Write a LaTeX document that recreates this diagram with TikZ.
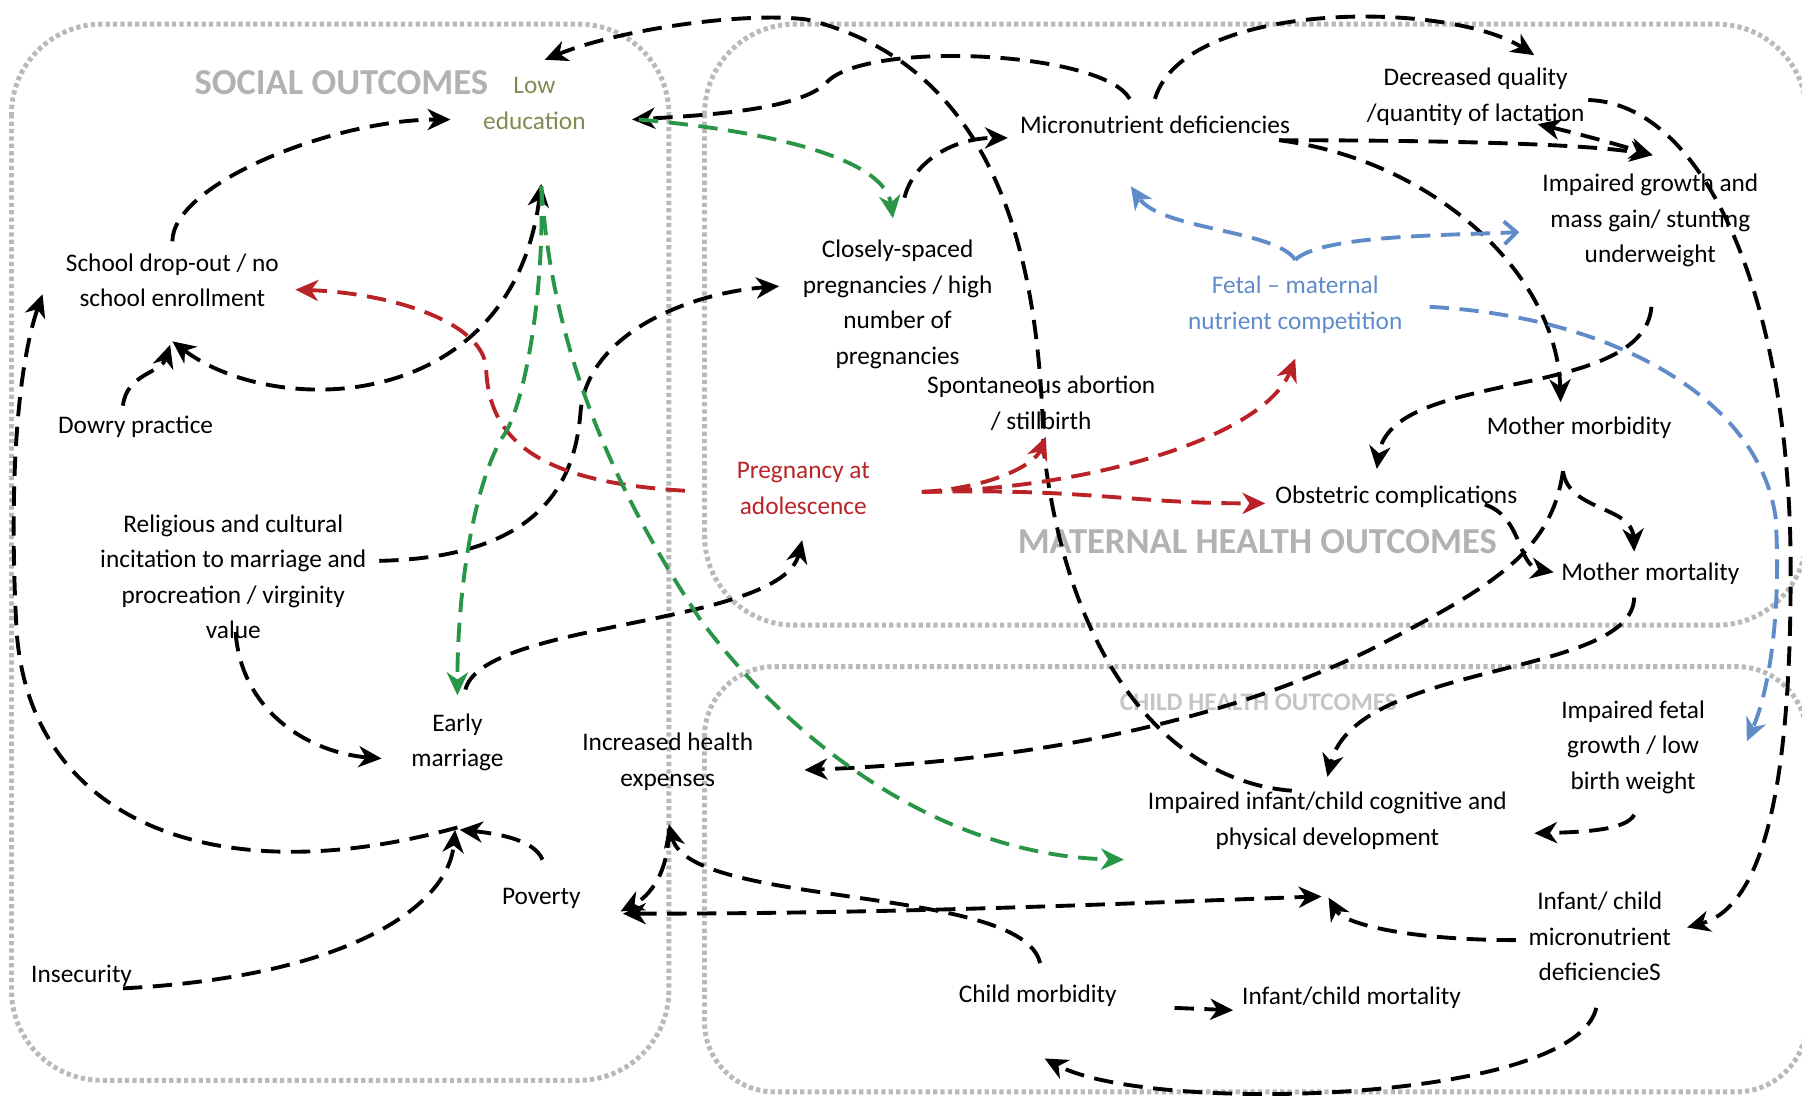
\documentclass[tikz,border=0pt]{standalone}
\usepackage{fontspec}
\setmainfont{Carlito}
\usetikzlibrary{arrows.meta}

\definecolor{zonegray}{RGB}{185,185,185}
\definecolor{titlegray}{RGB}{178,178,178}
\definecolor{eduolive}{RGB}{125,140,80}
\definecolor{pregred}{RGB}{185,35,40}
\definecolor{lnkgreen}{RGB}{40,150,70}
\definecolor{fetblue}{RGB}{95,140,200}

\begin{document}
\begin{tikzpicture}[x=0.1149mm, y=-0.1149mm, line join=round,
    >={Stealth[length=6.5pt,width=6pt,inset=2pt]},
    zone/.style={draw=zonegray, line width=1.4pt, dash pattern=on 1.2pt off 0.9pt, rounded corners=9mm},
    zonetitle/.style={text=titlegray, font=\bfseries\fontsize{10.4pt}{12pt}\selectfont, inner sep=0pt},
    txt/.style={align=center, inner sep=1pt, font=\fontsize{7.2pt}{10.1pt}\selectfont},
    lnk/.style={->, line width=1.1pt, dash pattern=on 5.5pt off 3pt},
    redlnk/.style={lnk, draw=pregred},
    grnlnk/.style={lnk, draw=lnkgreen},
    blulnk/.style={lnk, draw=fetblue}]
    \useasboundingbox (0,0) rectangle (1568,953);

    % outcome zones
    \draw[zone] (10,21) rectangle (582,940);
    \draw[zone] (613,21) rectangle (1572,544);
    \draw[zone, rounded corners=7mm] (613,580) rectangle (1572,950);

    \node[zonetitle] (soctitle) at (297,72) {SOCIAL OUTCOMES};
    \node[zonetitle] (mattitle) at (1094,471) {MATERNAL HEALTH OUTCOMES};
    \node[zonetitle, text=titlegray!75, font=\bfseries\fontsize{7.2pt}{9pt}\selectfont] (chtitle) at (1095,611) {CHILD HEALTH OUTCOMES};

    % social side
    \node[txt, text=eduolive] (edu) at (465,90) {Low\\education};
    \node[txt] (drop) at (150,244) {School drop-out / no\\school enrollment};
    \node[txt] (dowry) at (118,371) {Dowry practice};
    \node[txt] (relig) at (203,502) {Religious and cultural\\incitation to marriage and\\procreation / virginity\\value};
    \node[txt] (early) at (398,646) {Early\\marriage};
    \node[txt] (exp) at (581,663) {Increased health\\expenses};
    \node[txt] (pov) at (471,782) {Poverty};
    \node[txt] (insec) at (71,849) {Insecurity};

    % maternal side
    \node[txt, text=pregred] (preg) at (699,425) {Pregnancy at\\adolescence};
    \node[txt] (close) at (781,265) {Closely-spaced\\pregnancies / high\\number of\\pregnancies};
    \node[txt] (abort) at (906,351) {Spontaneous abortion\\/ stillbirth};
    \node[txt] (micro) at (1005,109) {Micronutrient deficiencies};
    \node[txt] (lact) at (1284,84) {Decreased quality\\/quantity of lactation};
    \node[txt] (growth) at (1436,192) {Impaired growth and\\mass gain/ stunting\\underweight};
    \node[txt, text=fetblue] (fetal) at (1127,265) {Fetal -- maternal\\nutrient competition};
    \node[txt] (mmorb) at (1374,372) {Mother morbidity};
    \node[txt] (obst) at (1215,432) {Obstetric complications};
    \node[txt] (mmort) at (1436,499) {Mother mortality};

    % child side
    \node[txt] (fgrow) at (1421,650) {Impaired fetal\\growth / low\\birth weight};
    \node[txt] (dev) at (1155,714) {Impaired infant/child cognitive and\\physical development};
    \node[txt] (cmicro) at (1392,815) {Infant/ child\\micronutrient\\deficiencieS};
    \node[txt] (cmorb) at (903,866) {Child morbidity};
    \node[txt] (cmort) at (1176,868) {Infant/child mortality};

    % black links
    \draw[lnk] ([shift={(0,-34)}]drop.center) .. controls (150,160) and (290,104) .. ([shift={(-73,14)}]edu.center);
    \draw[lnk, <->] ([shift={(0,53)}]drop.center) .. controls (240,365) and (445,360) .. ([shift={(6,70)}]edu.center);
    \draw[lnk] ([shift={(-11,-18)}]dowry.center) .. controls (110,325) and (140,325) .. ([shift={(-2,56)}]drop.center);
    \draw[lnk] ([shift={(127,-14)}]relig.center) .. controls (470,485) and (500,420) .. (505,360)
        .. controls (510,290) and (600,255) .. ([shift={(-103,-16)}]close.center);
    \draw[lnk] ([shift={(2,48)}]relig.center) .. controls (210,620) and (270,655) .. ([shift={(-66,14)}]early.center);
    \draw[lnk] ([shift={(7,-46)}]early.center) .. controls (420,540) and (680,545) .. ([shift={(-1,45)}]preg.center);
    \draw[lnk] ([shift={(0,74)}]early.center) .. controls (180,780) and (20,710) .. (14,540)
        .. controls (8,420) and (15,320) .. ([shift={(-113,12)}]drop.center);
    \draw[lnk] ([shift={(36,11)}]insec.center) .. controls (300,850) and (390,790) .. ([shift={(-2,76)}]early.center);
    \draw[lnk] ([shift={(1,-34)}]pov.center) .. controls (465,730) and (430,725) .. ([shift={(2,76)}]early.center);
    \draw[lnk] ([shift={(2,-28)}]cmorb.center) .. controls (890,770) and (600,790) .. ([shift={(1,54)}]exp.center);
    \draw[lnk] ([shift={(1,58)}]exp.center) .. controls (582,760) and (565,780) .. ([shift={(69,11)}]pov.center);
    \draw[lnk, <->] ([shift={(71,13)}]pov.center) .. controls (800,795) and (1000,785) .. ([shift={(-5,66)}]dev.center);
    \draw[lnk] ([shift={(-73,3)}]cmicro.center) .. controls (1230,818) and (1170,805) .. ([shift={(1,67)}]dev.center);
    \draw[lnk] ([shift={(119,11)}]cmorb.center) -- ([shift={(-103,11)}]cmort.center);
    \draw[lnk] ([shift={(-3,62)}]cmicro.center) .. controls (1370,960) and (1000,970) .. ([shift={(6,55)}]cmorb.center);
    \draw[lnk] ([shift={(1,59)}]fgrow.center) .. controls (1415,722) and (1380,724) .. ([shift={(180,11)}]dev.center);
    \draw[lnk] ([shift={(-14,21)}]mmort.center) .. controls (1420,590) and (1180,575) .. ([shift={(0,-38)}]dev.center);
    \draw[lnk] ([shift={(-14,38)}]mmorb.center) .. controls (1365,445) and (1420,440) .. ([shift={(-14,-19)}]mmort.center);
    \draw[lnk] ([shift={(-14,38)}]mmorb.center) .. controls (1350,480) and (1300,510) .. (1191,566)
        .. controls (1100,610) and (950,660) .. ([shift={(119,7)}]exp.center);
    \draw[lnk] ([shift={(77,7)}]obst.center) .. controls (1325,450) and (1320,492) .. ([shift={(-84,-1)}]mmort.center);
    \draw[lnk] ([shift={(1,75)}]growth.center) .. controls (1430,350) and (1210,320) .. ([shift={(-17,-24)}]obst.center);
    \draw[lnk] ([shift={(108,13)}]micro.center) .. controls (1250,140) and (1355,240) .. ([shift={(-16,-22)}]mmorb.center);
    \draw[lnk] ([shift={(108,13)}]micro.center) .. controls (1250,122) and (1380,125) .. ([shift={(2,-57)}]growth.center);
    \draw[lnk, <->] ([shift={(54,24)}]lact.center) .. controls (1380,118) and (1415,128) .. ([shift={(2,-57)}]growth.center);
    \draw[lnk] ([shift={(-22,-23)}]micro.center) .. controls (960,45) and (760,35) .. (721,70)
        .. controls (700,95) and (620,100) .. ([shift={(85,14)}]edu.center);
    \draw[lnk] ([shift={(0,-23)}]micro.center) .. controls (1030,0) and (1260,0) .. ([shift={(51,-36)}]lact.center);
    \draw[lnk] ([shift={(6,-93)}]close.center) .. controls (795,140) and (830,120) .. ([shift={(-128,11)}]micro.center);
    \draw[lnk] ([shift={(-31,-26)}]dev.center) .. controls (1020,680) and (930,580) .. (908,390)
        .. controls (905,250) and (880,60) .. (702,17)
        .. controls (650,10) and (540,25) .. ([shift={(9,-38)}]edu.center);
    \draw[lnk] ([shift={(98,3)}]lact.center) .. controls (1480,90) and (1555,250) .. (1558,480)
        .. controls (1560,700) and (1530,790) .. ([shift={(76,-8)}]cmicro.center);

    % red links
    \draw[redlnk] ([shift={(-103,2)}]preg.center) .. controls (480,420) and (425,390) .. (423,320)
        .. controls (420,280) and (340,255) .. ([shift={(107,8)}]drop.center);
    \draw[redlnk] ([shift={(103,3)}]preg.center) .. controls (860,425) and (900,405) .. ([shift={(4,29)}]abort.center);
    \draw[redlnk] ([shift={(104,3)}]preg.center) .. controls (950,425) and (1100,380) .. ([shift={(0,47)}]fetal.center);
    \draw[redlnk] ([shift={(104,3)}]preg.center) .. controls (950,425) and (980,438) .. ([shift={(-114,6)}]obst.center);

    % green links
    \draw[grnlnk] ([shift={(91,14)}]edu.center) .. controls (680,115) and (770,140) .. ([shift={(-4,-75)}]close.center);
    \draw[grnlnk] ([shift={(6,72)}]edu.center) .. controls (474,260) and (455,360) .. (436,382)
        .. controls (410,430) and (398,520) .. ([shift={(0,-41)}]early.center);
    \draw[grnlnk] ([shift={(6,72)}]edu.center) .. controls (480,300) and (530,420) .. (610,540)
        .. controls (700,660) and (830,745) .. ([shift={(-177,34)}]dev.center);

    % blue links
    \draw[blulnk] ([shift={(0,-39)}]fetal.center) .. controls (1110,200) and (1010,200) .. ([shift={(-21,53)}]micro.center);
    \draw[blulnk, -{Straight Barb[length=3.5pt,width=6.5pt]}] ([shift={(0,-39)}]fetal.center) .. controls (1150,205) and (1250,205) .. ([shift={(-114,10)}]growth.center);
    \draw[blulnk] ([shift={(117,2)}]fetal.center) .. controls (1400,275) and (1530,345) .. (1545,450)
        .. controls (1550,530) and (1540,600) .. ([shift={(99,-5)}]fgrow.center);
\end{tikzpicture}
\end{document}
